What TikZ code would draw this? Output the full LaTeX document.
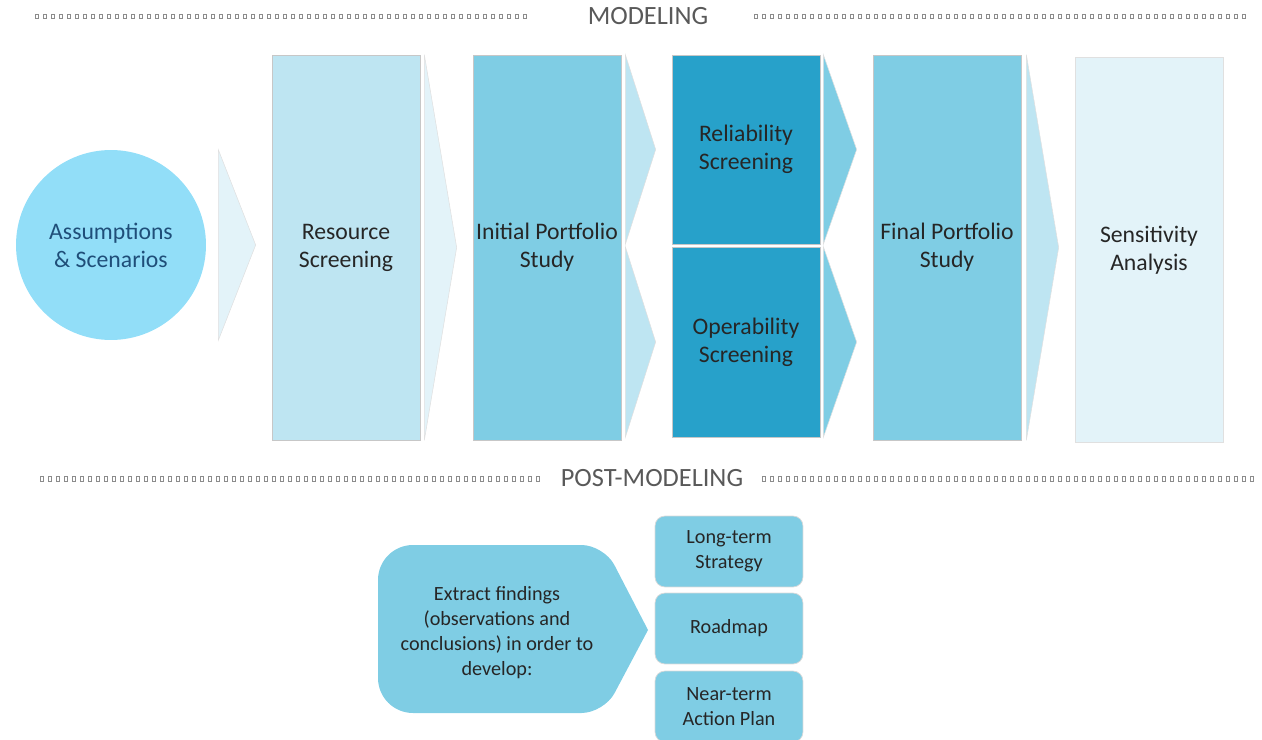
\documentclass[tikz,border=0pt]{standalone}
\usepackage{fontspec}
\setmainfont{Carlito}
\usepackage{tikz}
\usetikzlibrary{calc,positioning}
\definecolor{palecyan}{HTML}{E3F3F9}
\definecolor{lightcyan}{HTML}{BEE5F2}
\definecolor{midcyan}{HTML}{7FCDE4}
\definecolor{deepcyan}{HTML}{27A1CA}
\definecolor{bubble}{HTML}{92DEF8}
\definecolor{navytext}{HTML}{1F4E79}
\definecolor{bodytext}{HTML}{262626}
\definecolor{headtext}{HTML}{595959}
\tikzset{
  stagebox/.style={draw=black!22,line width=0.4pt,minimum width=2.96cm,
    minimum height=7.7cm,inner sep=1pt,align=center,text=bodytext,
    font=\fontsize{13.5}{16}\selectfont},
  halfbox/.style={stagebox,minimum height=3.78cm},
  chev/.style={draw=black!12,line width=0.3pt},
  outcome/.style={draw=black!15,line width=0.4pt,fill=midcyan,rounded corners=0.2cm,
    minimum width=2.96cm,minimum height=1.42cm,align=center,text=bodytext,
    font=\fontsize{11.5}{14.2}\selectfont},
  header/.style={text=headtext,font=\fontsize{15}{18}\selectfont},
  dotsq/.style={draw=black!45,line width=0.35pt}
}
% triangle between two stages; #5 gives its vertical span
\newcommand{\stagechev}[5][4]{%
  \filldraw[chev,#2] ($(#3.east |- #5.north)+(#1,0)$)
    -- ($(#4.west |- #5.center)+(-16,0)$)
    -- ($(#3.east |- #5.south)+(#1,0)$) -- cycle;}

\begin{document}
\begin{tikzpicture}[x=0.02cm,y=-0.02cm]
  \useasboundingbox (0,0) rectangle (1262,740);

  % section headers with dotted rules
  \node[header] (hmodel) at (648,16) {MODELING};
  \node[header] (hpost) at (652,478) {POST-MODELING};
  \foreach \x in {35,43,...,523} \draw[dotsq] (\x,14) rectangle ++(3.6,4);
  \foreach \x in {754,762,...,1246} \draw[dotsq] (\x,14) rectangle ++(3.6,4);
  \foreach \x in {40,48,...,538} \draw[dotsq] (\x,476) rectangle ++(3,5);
  \foreach \x in {762,770,...,1250} \draw[dotsq] (\x,476) rectangle ++(3,5);

  % modeling stages
  \node[circle,fill=bubble,minimum size=3.8cm,align=center,text=navytext,
    font=\fontsize{13.5}{16}\selectfont] (assume) at (111,245) {Assumptions\\\& Scenarios};
  \node[stagebox,fill=lightcyan] (resrc) at (346,247.5) {Resource\\Screening};
  \node[stagebox,fill=midcyan] (initport) at (547,247.5) {Initial Portfolio\\Study};
  \node[halfbox,fill=deepcyan] (relia) at (746,149.5) {Reliability\\Screening};
  \node[halfbox,fill=deepcyan,minimum height=3.8cm] (opera) at (746,342) {Operability\\Screening};
  \node[stagebox,fill=midcyan] (finalport) at (947,247.5) {Final Portfolio\\Study};
  \node[stagebox,fill=palecyan,draw=black!12] (sensit) at (1149,250) {Sensitivity\\Analysis};

  \stagechev[12]{fill=palecyan}{assume}{resrc}{assume}
  \stagechev{fill=palecyan}{resrc}{initport}{resrc}
  \stagechev{fill=lightcyan}{initport}{relia}{relia}
  \stagechev{fill=lightcyan}{initport}{opera}{opera}
  \stagechev[3]{fill=midcyan}{relia}{finalport}{relia}
  \stagechev[3]{fill=midcyan}{opera}{finalport}{opera}
  \stagechev[5]{fill=lightcyan}{finalport}{sensit}{finalport}

  % post-modeling
  \fill[midcyan] (378,630) [rounded corners=0.7cm] -- (378,545)
    [rounded corners=0.45cm] -- (604,545) [sharp corners] -- (648,630)
    [rounded corners=0.45cm] -- (604,713) [rounded corners=0.7cm] -- (378,713)
    [sharp corners] -- cycle;
  \node[align=center,text=bodytext,font=\fontsize{11.5}{14.2}\selectfont]
    (findings) at (497,633) {Extract findings\\(observations and\\conclusions) in order to\\develop:};
  \node[outcome] (longterm) at (729,551.5) {Long-term\\Strategy};
  \node[outcome] (roadmap) at (729,628.5) {Roadmap};
  \node[outcome] (nearterm) at (729,706.5) {Near-term\\Action Plan};
\end{tikzpicture}
\end{document}
